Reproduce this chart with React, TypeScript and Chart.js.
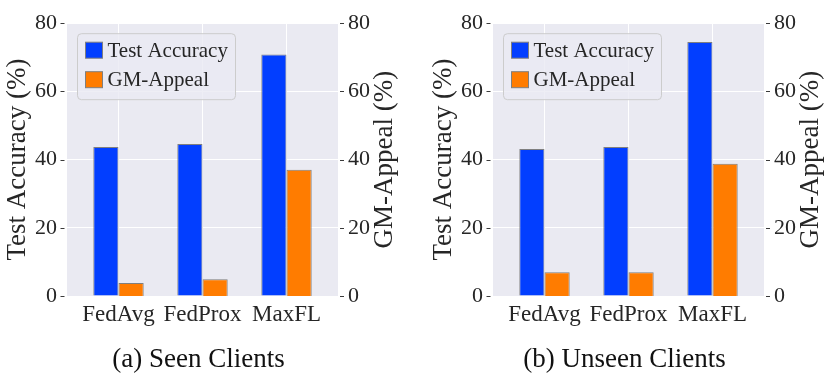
import React, { useEffect, useRef } from 'react';
import { Chart, registerables } from 'chart.js';

Chart.register(...registerables);

const categories = ['FedAvg', 'FedProx', 'MaxFL'];
const seenAccuracy = [43.7, 44.6, 70.8];
const seenAppeal = [3.8, 4.9, 37.0];
const unseenAccuracy = [43.1, 43.7, 74.5];
const unseenAppeal = [7.0, 7.0, 38.8];
const yTicks = [0, 20, 40, 60, 80];
const seriesNames = ['Test Accuracy', 'GM-Appeal'];
const axisTitles = ['Test Accuracy (%)', 'GM-Appeal (%)'];
const captions = ['(a) Seen Clients', '(b) Unseen Clients'];

const FONT = '"Liberation Serif"';
const BLUE = '#023eff';
const ORANGE = '#ff7c00';
const EDGE = '#7f7f7f';
const BG = '#eaeaf2';
const TEXT = '#262626';

function panelPlugin(caption: string) {
  return {
    id: 'panel',
    beforeDraw(chart: any) {
      const { ctx, chartArea: a } = chart;
      ctx.save();
      ctx.fillStyle = BG;
      ctx.fillRect(a.left, a.top, a.right - a.left, a.bottom - a.top);
      ctx.restore();
    },
    afterDraw(chart: any) {
      const { ctx, chartArea: a } = chart;
      ctx.save();
      // tick marks
      ctx.strokeStyle = '#3a3a3a';
      ctx.lineWidth = 1;
      const ys = chart.scales.y;
      for (const t of ys.ticks) {
        const py = Math.round(ys.getPixelForValue(t.value)) + 0.5;
        ctx.beginPath();
        ctx.moveTo(a.left - 6.5, py);
        ctx.lineTo(a.left - 2.5, py);
        ctx.moveTo(a.right + 2, py);
        ctx.lineTo(a.right + 6, py);
        ctx.stroke();
      }
      // legend
      const lx = a.left + 10.5;
      const ly = a.top + 10.5;
      const lw = 158;
      const lh = 66;
      ctx.beginPath();
      (ctx as any).roundRect(lx, ly, lw, lh, 4);
      ctx.fillStyle = 'rgba(234,234,242,0.8)';
      ctx.fill();
      ctx.strokeStyle = '#cccccc';
      ctx.stroke();
      const colors = [BLUE, ORANGE];
      const rowsY = [a.top + 27, a.top + 56.5];
      ctx.font = `21px ${FONT}`;
      ctx.textAlign = 'left';
      ctx.textBaseline = 'middle';
      for (let i = 0; i < 2; i++) {
        ctx.fillStyle = colors[i];
        ctx.fillRect(a.left + 18.5, rowsY[i] - 8, 17, 16);
        ctx.strokeStyle = EDGE;
        ctx.strokeRect(a.left + 18.5, rowsY[i] - 8, 17, 16);
        ctx.fillStyle = TEXT;
        ctx.fillText(seriesNames[i], a.left + 40.5, rowsY[i] + 1);
      }
      // axis titles
      ctx.fillStyle = TEXT;
      ctx.font = `27px ${FONT}`;
      ctx.textAlign = 'center';
      ctx.textBaseline = 'middle';
      const cy = (a.top + a.bottom) / 2;
      ctx.save();
      ctx.translate(a.left - 49, cy);
      ctx.rotate(-Math.PI / 2);
      ctx.fillText(axisTitles[0], 0, 0);
      ctx.restore();
      ctx.save();
      ctx.translate(a.right + 47, cy);
      ctx.rotate(-Math.PI / 2);
      ctx.fillText(axisTitles[1], 0, 0);
      ctx.restore();
      // caption
      ctx.font = `27px ${FONT}`;
      ctx.fillStyle = '#111';
      ctx.fillText(caption, (a.left + a.right) / 2 - 4, 360);
      ctx.restore();
    },
  };
}

function makeConfig(acc: number[], app: number[], caption: string, leftW: number, rightW: number): any {
  const yTickOpts = { padding: 10, color: TEXT, font: { family: FONT, size: 22 } };
  return {
    type: 'bar',
    data: {
      datasets: [
        {
          label: seriesNames[0],
          data: acc.map((v, i) => ({ x: i, y: v })),
          yAxisID: 'y',
          backgroundColor: BLUE,
          borderColor: EDGE,
          borderWidth: 1,
          categoryPercentage: 0.6,
          barPercentage: 1,
        },
        {
          label: seriesNames[1],
          data: app.map((v, i) => ({ x: i, y: v })),
          yAxisID: 'y1',
          backgroundColor: ORANGE,
          borderColor: EDGE,
          borderWidth: 1,
          categoryPercentage: 0.6,
          barPercentage: 1,
        },
      ],
    },
    options: {
      responsive: false,
      animation: false,
      devicePixelRatio: 1,
      font: { family: FONT },
      layout: { padding: { top: 15, left: 0, right: 0, bottom: 0 } },
      plugins: { legend: { display: false }, title: { display: false }, tooltip: { enabled: false } },
      scales: {
        x: {
          type: 'linear',
          min: -0.613,
          max: 2.613,
          offset: false,
          grid: { offset: false, color: '#ffffff', lineWidth: 1, drawTicks: false },
          border: { display: false },
          ticks: {
            stepSize: 1,
            includeBounds: false,
            autoSkip: false,
            maxRotation: 0,
            padding: 5,
            color: TEXT,
            font: { family: FONT, size: 23 },
            callback: (v: number) => (Number.isInteger(v) && categories[v] ? categories[v] : ''),
          },
          afterFit: (s: any) => {
            s.height = 95;
          },
        },
        y: {
          position: 'left',
          min: 0,
          max: 80,
          afterBuildTicks: (s: any) => {
            s.ticks = yTicks.map((v) => ({ value: v }));
          },
          grid: { color: '#ffffff', lineWidth: 1, drawTicks: false },
          border: { display: false },
          ticks: yTickOpts,
          afterFit: (s: any) => {
            s.width = leftW;
          },
        },
        y1: {
          position: 'right',
          min: 0,
          max: 80,
          afterBuildTicks: (s: any) => {
            s.ticks = yTicks.map((v) => ({ value: v }));
          },
          grid: { display: false, drawTicks: false },
          border: { display: false },
          ticks: yTickOpts,
          afterFit: (s: any) => {
            s.width = rightW;
          },
        },
      },
    },
    plugins: [panelPlugin(caption)],
  };
}

function Panel(props: { acc: number[]; app: number[]; caption: string; left: number; leftW: number; rightW: number }) {
  const ref = useRef<HTMLCanvasElement | null>(null);
  useEffect(() => {
    if (!ref.current) return;
    const chart = new Chart(ref.current, makeConfig(props.acc, props.app, props.caption, props.leftW, props.rightW));
    let alive = true;
    const redraw = () => {
      if (alive) chart.update('none');
    };
    const fonts = (document as any).fonts;
    if (fonts) {
      fonts.load(`22px ${FONT}`).then(redraw, () => {});
      fonts.ready.then(redraw, () => {});
    }
    const t1 = setTimeout(redraw, 100);
    const t2 = setTimeout(redraw, 400);
    return () => {
      alive = false;
      clearTimeout(t1);
      clearTimeout(t2);
      chart.destroy();
    };
  }, []);
  return (
    <canvas
      ref={ref}
      width={415}
      height={391}
      style={{ position: 'absolute', left: props.left, top: 0, width: 415, height: 391 }}
    />
  );
}

export default function App() {
  return (
    <div style={{ position: 'absolute', left: 0, top: 0, width: 830, height: 391, background: '#fff' }}>
      <span
        style={{ position: 'absolute', left: 0, top: 0, fontFamily: FONT, fontSize: 22, color: 'transparent', pointerEvents: 'none' }}
      >
        Test Accuracy
      </span>
      <Panel acc={seenAccuracy} app={seenAppeal} caption={captions[0]} left={0} leftW={67} rightW={77} />
      <Panel acc={unseenAccuracy} app={unseenAppeal} caption={captions[1]} left={415} leftW={78} rightW={66} />
    </div>
  );
}
